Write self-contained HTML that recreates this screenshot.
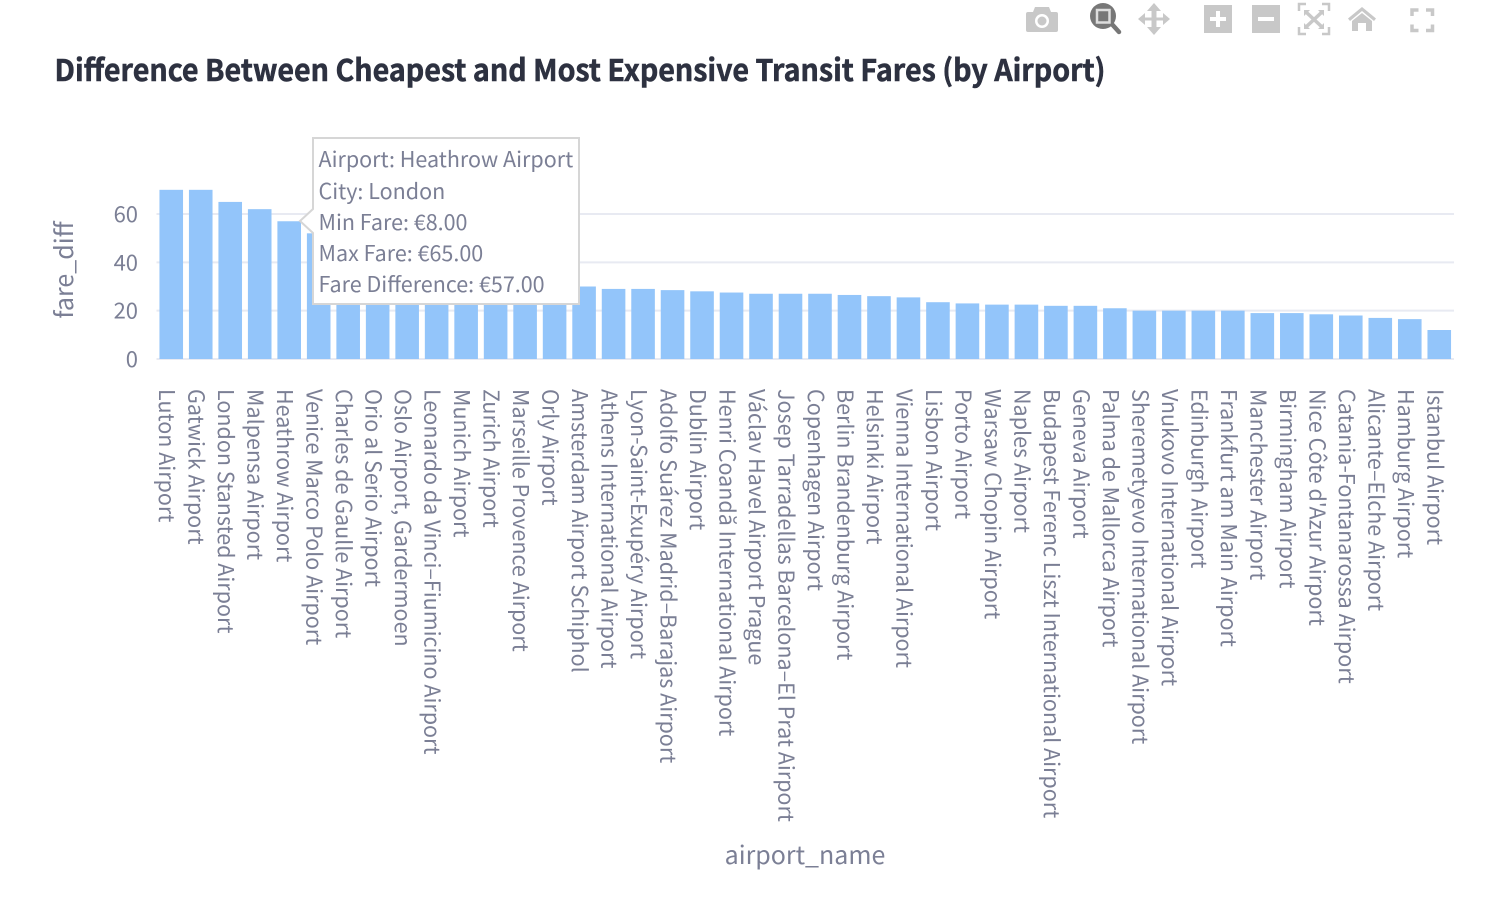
<!DOCTYPE html>
<html lang="en">
<head>
<meta charset="utf-8">
<title>Difference Between Cheapest and Most Expensive Transit Fares (by Airport)</title>
<style>
html,body{margin:0;padding:0;background:#fff;width:1492px;height:900px;overflow:hidden}
svg{display:block;font-family:"Noto Sans CJK JP","Liberation Sans",sans-serif}
text{fill:#7b7f95}
</style>
</head>
<body>
<svg id="chart" xmlns="http://www.w3.org/2000/svg" width="1492" height="900" viewBox="0 0 1492 900">
  <g id="toolbar">
    <g fill="#c8c8c8">
      <path d="M1026 14a2 2 0 0 1 2-2h5l2-5h14l2 5h5a2 2 0 0 1 2 2v16a2 2 0 0 1-2 2h-28a2 2 0 0 1-2-2z"/>
      <circle cx="1042" cy="21" r="7" fill="#fff"/>
      <circle cx="1042" cy="21" r="4.5"/>
    </g>
    <g>
      <line x1="1110" y1="22" x2="1119" y2="32" stroke="#777" stroke-width="4.5" stroke-linecap="round"/>
      <circle cx="1103" cy="16" r="13" fill="#777"/>
      <rect x="1097" y="10" width="12.5" height="12.5" fill="#777" stroke="#ddd" stroke-width="2.5"/>
    </g>
    <g fill="#c8c8c8">
      <path d="M1154 3l7 8h-4.5v6.500h6.500V13l7 6-7 6v-4.500h-6.500V27H1161l-7 8-7-8h4.500v-6.500H1145V25l-7-6 7-6v4.500h6.500V11H1147z"/>
    </g>
    <g>
      <rect x="1204" y="5" width="28" height="28" fill="#c8c8c8"/>
      <rect x="1210" y="17" width="16" height="4" fill="#fff"/>
      <rect x="1216" y="11" width="4" height="16" fill="#fff"/>
    </g>
    <g>
      <rect x="1252" y="5" width="28" height="28" fill="#c8c8c8"/>
      <rect x="1258" y="17" width="16" height="4" fill="#fff"/>
    </g>
    <g fill="none" stroke="#c8c8c8" stroke-width="2.5">
      <path d="M1299 11V4h7M1322 4h7v7M1329 27v7h-7M1306 34h-7v-7"/>
      <path d="M1306 12l16 15M1322 12l-16 15" stroke-width="3.5"/>
      <path d="M1304 10h6l-6 6zM1324 10h-6l6 6zM1304 29h6l-6-6zM1324 29h-6l6-6z" fill="#c8c8c8" stroke="none"/>
    </g>
    <g fill="#c8c8c8">
      <path d="M1348 18.500l14-11.500 14 11.500-2 2.500-12-10-12 10z"/>
      <path d="M1352 21l10-8 10 8v10h-6v-8h-8v8h-6z"/>
    </g>
    <g fill="none" stroke="#c8c8c8" stroke-width="3.500">
      <path d="M1412 16V10h6.500M1426 10h6.500v6M1432.500 24.500v6H1426M1418.500 30.500H1412v-6"/>
    </g>
  </g>
  <text x="54.500" y="81" font-size="30" font-weight="700" style="fill:#2d3140;stroke:#2d3140;stroke-width:0.55" textLength="1051" lengthAdjust="spacingAndGlyphs">Difference Between Cheapest and Most Expensive Transit Fares (by Airport)</text>
  <g id="grid"></g>
  <g id="bars"></g>
  <g id="yticks"></g>
  <g id="xticks"></g>
  <text transform="translate(73,270) rotate(-90)" text-anchor="middle" font-size="25">fare_diff</text>
  <text x="805" y="864" text-anchor="middle" font-size="25">airport_name</text>
  <g>
    <path d="M313 138H579V304H313V233L300 221L313 209Z" fill="#fff" stroke="#d6d6d6" stroke-width="2"/>
    <text x="318.500" y="167" font-size="21.500">Airport: Heathrow Airport</text>
    <text x="318.500" y="199" font-size="21.500">City: London</text>
    <text x="318.500" y="230" font-size="21.500">Min Fare: €8.00</text>
    <text x="318.500" y="261" font-size="21.500">Max Fare: €65.00</text>
    <text x="318.500" y="292" font-size="21.500">Fare Difference: €57.00</text>
  </g>
</svg>
<script>
const airports = ["Luton Airport","Gatwick Airport","London Stansted Airport","Malpensa Airport","Heathrow Airport","Venice Marco Polo Airport","Charles de Gaulle Airport","Orio al Serio Airport","Oslo Airport, Gardermoen","Leonardo da Vinci–Fiumicino Airport","Munich Airport","Zurich Airport","Marseille Provence Airport","Orly Airport","Amsterdam Airport Schiphol","Athens International Airport","Lyon-Saint-Exupéry Airport","Adolfo Suárez Madrid–Barajas Airport","Dublin Airport","Henri Coandă International Airport","Václav Havel Airport Prague","Josep Tarradellas Barcelona–El Prat Airport","Copenhagen Airport","Berlin Brandenburg Airport","Helsinki Airport","Vienna International Airport","Lisbon Airport","Porto Airport","Warsaw Chopin Airport","Naples Airport","Budapest Ferenc Liszt International Airport","Geneva Airport","Palma de Mallorca Airport","Sheremetyevo International Airport","Vnukovo International Airport","Edinburgh Airport","Frankfurt am Main Airport","Manchester Airport","Birmingham Airport","Nice Côte d'Azur Airport","Catania-Fontanarossa Airport","Alicante–Elche Airport","Hamburg Airport","Istanbul Airport"];
const fareDiff = [70,70,65,62,57,52,48,45,42,40,38,36,34,32,30,29,29,28.5,28,27.5,27,27,27,26.5,26,25.5,23.5,23,22.5,22.5,22,22,21,20,20,20,20,19,19,18.5,18,17,16.5,12];
const yTickValues = [0,20,40,60];

const NS = 'http://www.w3.org/2000/svg';
const plotLeft = 156.5, plotRight = 1454, plotBottom = 359, pxPerUnit = 2.4167;
const bandStep = (plotRight - plotLeft) / airports.length;
const barWidth = bandStep * 0.8;
function xScale(i){ return plotLeft + bandStep * (i + 0.5); }
function yScale(v){ return plotBottom - v * pxPerUnit; }
function mk(tag, attrs, parent){
  const el = document.createElementNS(NS, tag);
  for (const k in attrs) el.setAttribute(k, attrs[k]);
  parent.appendChild(el);
  return el;
}
const gridG = document.getElementById('grid');
const barsG = document.getElementById('bars');
const yG = document.getElementById('yticks');
const xG = document.getElementById('xticks');

yTickValues.forEach(function(v){
  const line = mk('line', {x1: plotLeft, x2: plotRight, y1: yScale(v), y2: yScale(v), stroke: '#e8eaf2', 'stroke-width': 2}, gridG);
  
  
  const label = mk('text', {x: 138, y: yScale(v) + 8, 'text-anchor': 'end', 'font-size': 22}, yG);
  
  
  label.textContent = v;
});

airports.forEach(function(name, i){
  const bar = mk('rect', {x: xScale(i) - barWidth / 2, y: yScale(fareDiff[i]), width: barWidth, height: plotBottom - yScale(fareDiff[i]), fill: '#93c5fa'}, barsG);
  
  
  const label = mk('text', {transform: 'translate(' + (xScale(i) - 12) + ',389) rotate(90)', 'font-size': 21.5}, xG);
  
  
  label.textContent = name;
});
</script>
</body>
</html>
